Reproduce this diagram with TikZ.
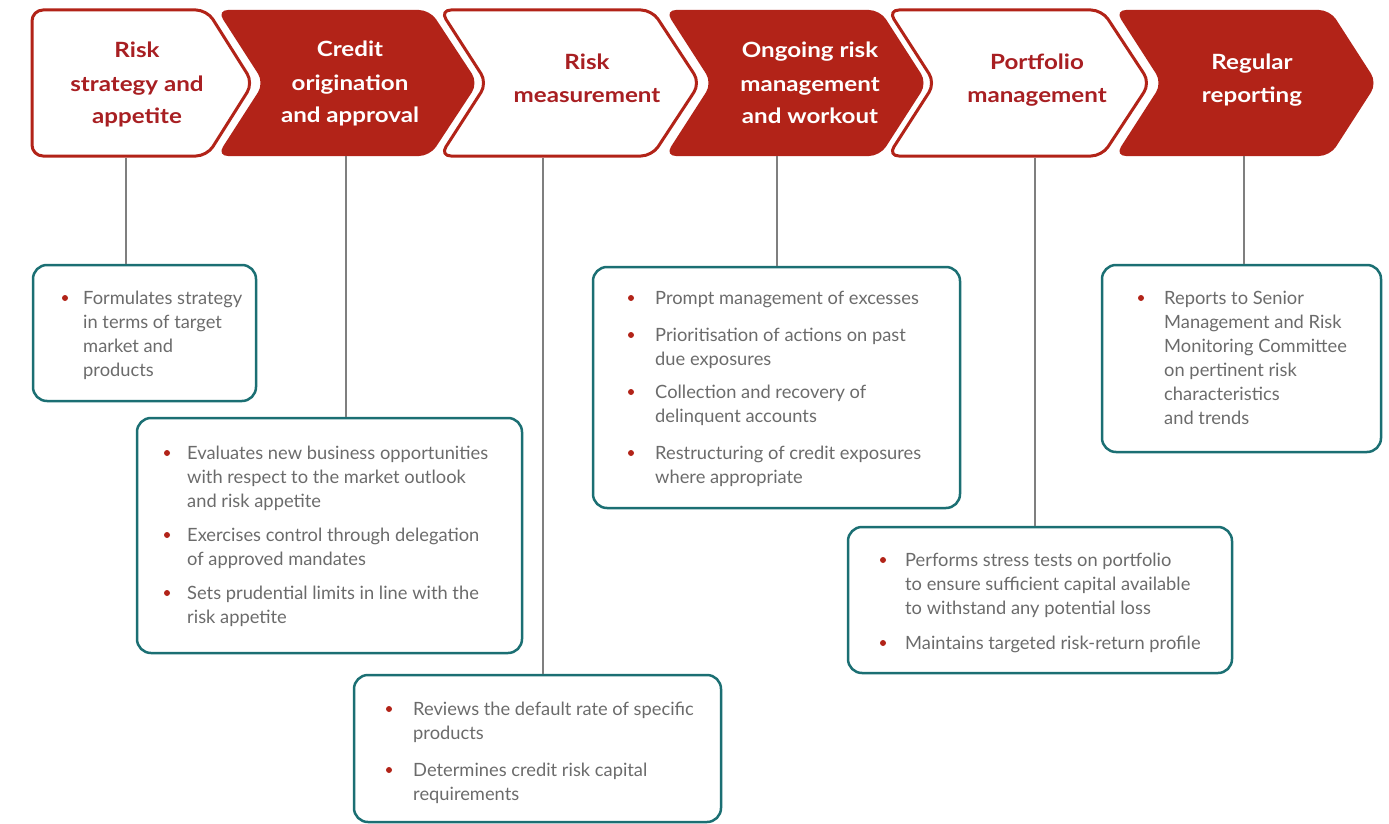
\documentclass[tikz,border=0pt]{standalone}
\usepackage{fontspec}
\setmainfont{Lato}
\newfontfamily\titlefont{Lato}[FakeStretch=1.15]
\definecolor{cred}{HTML}{B22318}
\definecolor{tred}{HTML}{A81F22}
\definecolor{teal}{HTML}{1B6F73}
\definecolor{tgray}{HTML}{6B6B6B}
\definecolor{lgray}{HTML}{7F7F7F}
\begin{document}
\begin{tikzpicture}[x=1pt,y=-1pt,
  chevw/.style={draw=cred,line width=3pt,fill=white,rounded corners=11pt},
  chevr/.style={fill=cred,rounded corners=11pt},
  titler/.style={inner sep=0pt,align=center,text=tred,font=\titlefont\fontsize{21}{33}\selectfont\bfseries,anchor=base},
  titlew/.style={inner sep=0pt,align=center,text=white,font=\titlefont\fontsize{21}{33}\selectfont\bfseries,anchor=base},
  box/.style={draw=teal,line width=2.5pt,rounded corners=14pt,inner sep=0pt},
  item/.style={inner sep=0pt,align=left,text=tgray,font=\fontsize{18.3}{24}\selectfont,anchor=base west},
  bul/.style={fill=cred},
  conn/.style={draw=lgray,line width=1.5pt}]
\useasboundingbox (0,0) rectangle (1389,824);

% chevrons
\draw[chevw] (32,10) -- (207,10) -- (253,83) -- (207,156) -- (32,156) -- cycle;
\fill[chevr] (217,10) -- (430,10) -- (478,83) -- (430,156) -- (217,156) -- (264,83) -- cycle;
\draw[chevw] (440,10) -- (652,10) -- (700,83) -- (652,156) -- (440,156) -- (487,83) -- cycle;
\fill[chevr] (665,10) -- (880,10) -- (927,83) -- (880,156) -- (665,156) -- (712,83) -- cycle;
\draw[chevw] (888,10) -- (1102,10) -- (1150,83) -- (1102,156) -- (888,156) -- (935,83) -- cycle;
\fill[chevr] (1115,10) -- (1330,10) -- (1377,83) -- (1330,156) -- (1115,156) -- (1162,83) -- cycle;

% titles (anchored at the baseline of the last line)
\node[titler] (t1) at (137,124) {Risk\\strategy and\\appetite};
\node[titlew] (t2) at (350,123) {Credit\\origination\\and approval};
\node[titler] (t3) at (587,103) {Risk\\measurement};
\node[titlew] (t4) at (810,124) {Ongoing risk\\management\\and workout};
\node[titler] (t5) at (1037,103) {Portfolio\\management};
\node[titlew] (t6) at (1252,103) {Regular\\reporting};

\coordinate (c1) at (126,157.5);
\coordinate (c2) at (346,156);
\coordinate (c3) at (543,157.5);
\coordinate (c4) at (777,156);
\coordinate (c5) at (1035,157.5);
\coordinate (c6) at (1244,156);

% boxes
\node[box,minimum width=223,minimum height=136] (b1) at (144.5,333) {};
\node[box,minimum width=385,minimum height=235] (b2) at (329.5,535.5) {};
\node[box,minimum width=367,minimum height=147] (b3) at (537.5,748.5) {};
\node[box,minimum width=367,minimum height=241] (b4) at (776.5,387.5) {};
\node[box,minimum width=384,minimum height=146] (b5) at (1040,600) {};
\node[box,minimum width=279,minimum height=187] (b6) at (1241.5,358.5) {};

% connectors
\draw[conn] (c1) -- (c1 |- b1.north);
\draw[conn] (c2) -- (c2 |- b2.north);
\draw[conn] (c3) -- (c3 |- b3.north);
\draw[conn] (c4) -- (c4 |- b4.north);
\draw[conn] (c5) -- (c5 |- b5.north);
\draw[conn] (c6) -- (c6 |- b6.north);

% items (anchored at the baseline of the last line)
% box 1
\fill[bul] (65,298) circle (3);
\node[item] (i11) at (83,376) {Formulates strategy\\in terms of target\\market and\\products};
% box 2
\fill[bul] (167,453) circle (3);
\node[item] (i21) at (187,507) {Evaluates new business opportunities\\with respect to the market outlook\\and risk appetite};
\fill[bul] (167,535) circle (3);
\node[item] (i22) at (187,565) {Exercises control through delegation\\of approved mandates};
\fill[bul] (167,593) circle (3);
\node[item] (i23) at (187,623) {Sets prudential limits in line with the\\risk appetite};
% box 3
\fill[bul] (389,709) circle (3);
\node[item] (i31) at (413,739) {Reviews the default rate of specific\\products};
\fill[bul] (389,770) circle (3);
\node[item] (i32) at (413,800) {Determines credit risk capital\\requirements};
% box 4
\fill[bul] (631,298) circle (3);
\node[item] (i41) at (655,304) {Prompt management of excesses};
\fill[bul] (631,335) circle (3);
\node[item] (i42) at (655,365) {Prioritisation of actions on past\\due exposures};
\fill[bul] (631,392) circle (3);
\node[item] (i43) at (655,422) {Collection and recovery of\\delinquent accounts};
\fill[bul] (631,453) circle (3);
\node[item] (i44) at (655,483) {Restructuring of credit exposures\\where appropriate};
% box 5
\fill[bul] (883,560) circle (3);
\node[item] (i51) at (905,614) {Performs stress tests on portfolio\\to ensure sufficient capital available\\to withstand any potential loss};
\fill[bul] (883,643) circle (3);
\node[item] (i52) at (905,649) {Maintains targeted risk-return profile};
% box 6
\fill[bul] (1141,298) circle (3);
\node[item] (i61) at (1164,424) {Reports to Senior\\Management and Risk\\Monitoring Committee\\on pertinent risk\\characteristics\\and trends};
\end{tikzpicture}
\end{document}
